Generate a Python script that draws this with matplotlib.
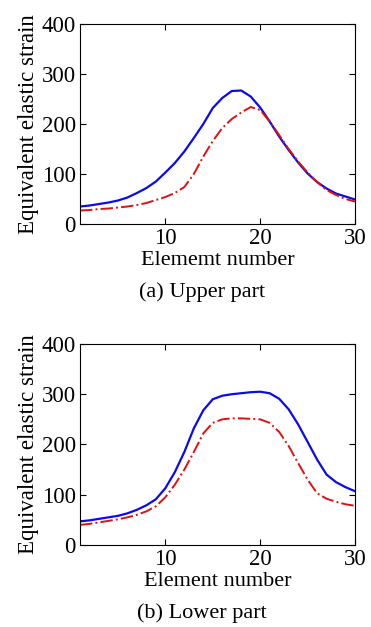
import matplotlib
matplotlib.use("Agg")
import matplotlib.pyplot as plt

plt.rcParams['font.family'] = ['Liberation Serif', 'DejaVu Serif']

elements = list(range(1, 31))

# Upper part
up_blue = [35, 37, 40, 43, 47, 53, 62, 72, 85, 103, 122, 145, 172, 200, 232,
           252, 266, 267, 255, 233, 205, 175, 148, 123, 101, 84, 71, 61, 55, 49]
up_red = [27, 28, 30, 31, 33, 35, 38, 42, 48, 54, 62, 74, 100, 135, 166,
          192, 210, 223, 234, 228, 205, 178, 150, 125, 103, 84, 68, 58, 50, 45]

# Lower part
lo_blue = [47, 49, 52, 55, 58, 63, 70, 79, 91, 113, 145, 185, 232, 268, 290,
           297, 300, 302, 304, 305, 302, 291, 270, 240, 205, 170, 140, 125, 115, 107]
lo_red = [40, 42, 45, 48, 51, 55, 60, 67, 77, 95, 120, 150, 185, 222, 243,
          250, 252, 252, 251, 250, 243, 225, 197, 163, 130, 103, 92, 86, 81, 78]

xticks = [10, 20, 30]
yticks = [0, 100, 200, 300, 400]

fig = plt.figure(figsize=(3.71, 6.27), dpi=100)

def setup(ax, xlabel, caption, cap_y):
    ax.set_xlim(1, 30)
    ax.set_ylim(0, 400)
    ax.set_xticks(xticks)
    ax.set_yticks(yticks)
    ax.tick_params(direction='in', top=True, right=True, labelsize=16.5, length=4, pad=3)
    ax.set_xlabel(xlabel, fontsize=16)
    ax.xaxis.set_label_coords(0.5, -0.135)
    ax.set_ylabel('Equivalent elastic strain', fontsize=16.5)
    ax.yaxis.set_label_coords(-0.15, 0.5)
    for s in ax.spines.values():
        s.set_linewidth(0.8)
    fig.text(0.545, cap_y, caption, ha='center', va='center', fontsize=16)

ax1 = fig.add_axes([0.2156, 0.6427, 0.7414, 0.319])
ax1.plot(elements, up_blue, color='#0a0aee', lw=1.6)
ax1.plot(elements, up_red, color='#e01010', lw=1.4, ls='-.')
setup(ax1, 'Elememt number', '(a) Upper part', 1 - 292/627)

ax2 = fig.add_axes([0.2156, 0.1308, 0.7414, 0.3206])
ax2.plot(elements, lo_blue, color='#0a0aee', lw=1.6)
ax2.plot(elements, lo_red, color='#e01010', lw=1.4, ls='-.')
setup(ax2, 'Element number', '(b) Lower part', 1 - 613/627)

fig.savefig('out.png', dpi=100)
